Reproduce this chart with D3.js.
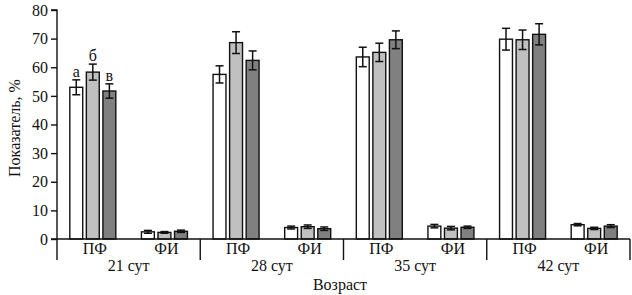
<!DOCTYPE html>
<html>
<head>
<meta charset="utf-8">
<script src="https://cdn.jsdelivr.net/npm/d3@7"></script>
<style>
  body { margin: 0; background: #fff; }
</style>
</head>
<body>
<div id="chart"></div>
<script>
const width = 632;
const height = 295;
const margin = {top: 10, right: 2, bottom: 56, left: 57};
const fontStack = "'Liberation Serif', 'Times New Roman', 'DejaVu Serif', serif";

// data
const ages = ["21 сут", "28 сут", "35 сут", "42 сут"];
const metrics = ["ПФ", "ФИ"];
const seriesKeys = ["s1", "s2", "s3"];
const seriesColors = ["#ffffff", "#c0c0c0", "#808080"];
const yTicks = [0, 10, 20, 30, 40, 50, 60, 70, 80];
// values per age, [ПФ, ФИ]
const s1Values = [[53, 2.5], [57.5, 4.0], [63.6, 4.5], [69.8, 5.0]];
const s2Values = [[58.3, 2.3], [68.6, 4.3], [65.2, 3.8], [69.6, 3.7]];
const s3Values = [[51.7, 2.7], [62.4, 3.6], [69.6, 4.1], [71.5, 4.5]];
const s1Errors = [[2.6, 0.5], [3.0, 0.5], [3.4, 0.6], [3.8, 0.4]];
const s2Errors = [[2.8, 0.3], [3.8, 0.6], [3.2, 0.6], [3.4, 0.4]];
const s3Errors = [[2.5, 0.4], [3.3, 0.6], [3.1, 0.4], [3.7, 0.5]];
const letters = ["а", "б", "в"];

const allValues = [s1Values, s2Values, s3Values];
const allErrors = [s1Errors, s2Errors, s3Errors];

const svg = d3.select("#chart")
  .append("svg")
  .attr("width", width)
  .attr("height", height)
  .style("font-family", fontStack);

const plotBottom = 239;

// one band per age x metric
const bandKeys = [];
ages.forEach(a => metrics.forEach(m => bandKeys.push(a + "|" + m)));

const xScale = d3.scaleBand()
  .domain(bandKeys)
  .range([margin.left, width - margin.right]);

const xAge = d3.scaleBand()
  .domain(ages)
  .range([margin.left, width - margin.right]);

const xSeries = d3.scaleBand()
  .domain(seriesKeys)
  .range([0, 46])
  .paddingInner(0.22);

const yScale = d3.scaleLinear()
  .domain([0, 80])
  .range([plotBottom, margin.top]);

// flatten for drawing
const rows = [];
ages.forEach((a, ai) => {
  metrics.forEach((m, mi) => {
    seriesKeys.forEach((s, si) => {
      rows.push({
        age: a, metric: m, series: s, si: si, ai: ai, mi: mi,
        value: allValues[si][ai][mi],
        err: allErrors[si][ai][mi]
      });
    });
  });
});

function barX(d) {
  const band = xScale(d.age + "|" + d.metric);
  const offset = (xScale.bandwidth() - 46) / 2;
  return band + offset + xSeries(d.series);
}

// bars
svg.append("g")
  .selectAll("rect")
  .data(rows)
  .join("rect")
    .attr("x", d => barX(d))
    .attr("y", d => yScale(d.value))
    .attr("width", xSeries.bandwidth())
    .attr("height", d => yScale(0) - yScale(d.value))
    .attr("fill", d => seriesColors[d.si])
    .attr("stroke", "#111")
    .attr("stroke-width", 1.4);

// error bars
const errG = svg.append("g")
  .attr("stroke", "#111")
  .attr("stroke-width", 1.5);

rows.forEach(d => {
  const cx = barX(d) + xSeries.bandwidth() / 2;
  const yTop = yScale(d.value + d.err);
  const yBot = yScale(d.value - d.err);
  errG.append("line").attr("x1", cx).attr("x2", cx).attr("y1", yTop).attr("y2", yBot);
  errG.append("line").attr("x1", cx - 4).attr("x2", cx + 4).attr("y1", yTop).attr("y2", yTop);
  errG.append("line").attr("x1", cx - 4).attr("x2", cx + 4).attr("y1", yBot).attr("y2", yBot);
});

// letters over first ПФ group
svg.append("g")
  .selectAll("text")
  .data(rows.filter(d => d.ai === 0 && d.mi === 0))
  .join("text")
    .attr("x", d => barX(d) + xSeries.bandwidth() / 2)
    .attr("y", d => yScale(d.value + d.err) - 3)
    .attr("text-anchor", "middle")
    .style("font-size", "16px")
    .attr("fill", "#111")
    .text(d => letters[d.si]);

// y axis
function yAxis(g) {
  g.attr("transform", "translate(" + margin.left + ",0)")
    .call(d3.axisLeft(yScale).tickValues(yTicks).tickSize(6).tickPadding(3));
  g.attr("font-family", null).attr("font-size", null)
    .style("font-size", "16px");
  g.select(".domain").attr("stroke", "#111").attr("stroke-width", 1.4)
    .attr("d", "M-6," + margin.top + "H0V260");
  g.selectAll(".tick line").attr("stroke", "#111").attr("stroke-width", 1.4);
  g.selectAll(".tick text").attr("fill", "#111");
}
svg.append("g").call(yAxis);

// baseline
svg.append("line")
  .attr("x1", margin.left - 6).attr("x2", width - margin.right)
  .attr("y1", plotBottom).attr("y2", plotBottom)
  .attr("stroke", "#111").attr("stroke-width", 1.4);

// group dividers
svg.append("g")
  .selectAll("line")
  .data(ages)
  .join("line")
    .attr("x1", d => xAge(d) + xAge.bandwidth())
    .attr("x2", d => xAge(d) + xAge.bandwidth())
    .attr("y1", plotBottom)
    .attr("y2", 260)
    .attr("stroke", "#111")
    .attr("stroke-width", 1.4);

// metric labels
svg.append("g")
  .selectAll("text")
  .data(bandKeys)
  .join("text")
    .attr("x", d => xScale(d) + xScale.bandwidth() / 2 + 2)
    .attr("y", 254)
    .attr("text-anchor", "middle")
    .style("font-size", "16px")
    .attr("fill", "#111")
    .text(d => d.split("|")[1]);

// age labels
svg.append("g")
  .selectAll("text")
  .data(ages)
  .join("text")
    .attr("x", d => xAge(d) + xAge.bandwidth() / 2)
    .attr("y", 271)
    .attr("text-anchor", "middle")
    .style("font-size", "16px")
    .attr("fill", "#111")
    .text(d => d);

// axis titles
svg.append("text")
  .attr("x", 340)
  .attr("y", 290)
  .attr("text-anchor", "middle")
  .style("font-size", "16px")
  .attr("fill", "#111")
  .text("Возраст");

svg.append("text")
  .attr("transform", "translate(20,128) rotate(-90)")
  .attr("text-anchor", "middle")
  .style("font-size", "16px")
  .attr("fill", "#111")
  .text("Показатель, %");
</script>
</body>
</html>
